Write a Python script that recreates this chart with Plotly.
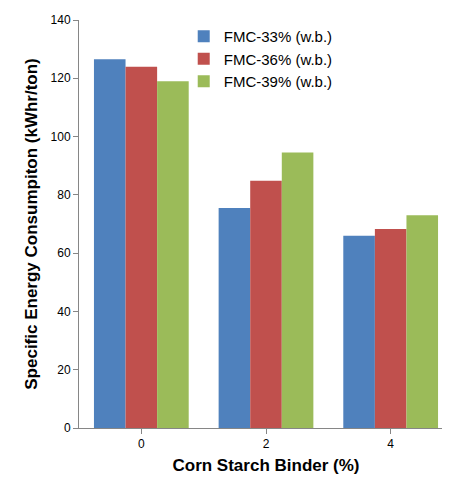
import plotly.graph_objects as go

categories = ["0", "2", "4"]
series_names = ["FMC-33% (w.b.)", "FMC-36% (w.b.)", "FMC-39% (w.b.)"]
fmc33 = [126.5, 75.5, 66]
fmc36 = [124, 84.8, 68.3]
fmc39 = [119, 94.5, 73]
colors = ["#4F81BD", "#C0504D", "#9BBB59"]

fig = go.Figure()
for name, vals, c in zip(series_names, [fmc33, fmc36, fmc39], colors):
    fig.add_trace(go.Bar(x=categories, y=vals, name=name, marker_color=c, marker_line_width=0))

fig.update_layout(
    width=450, height=481, plot_bgcolor="white", paper_bgcolor="white",
    margin=dict(l=71, r=5, t=8, b=61),
    barmode="group", bargap=0.24, bargroupgap=0,
    font=dict(family="Liberation Sans, Arial", size=12, color="black"),
    legend=dict(x=0.28, y=1.0, xanchor="left", yanchor="top", font=dict(size=15),
                bgcolor="rgba(0,0,0,0)", itemwidth=30, tracegroupgap=0),
    xaxis=dict(title=dict(text="<b>Corn Starch Binder (%)</b>", font=dict(size=17), standoff=8),
               showline=True, linecolor="#868686", ticks="outside", tickcolor="#868686",
               tickfont=dict(size=12)),
    yaxis=dict(title=dict(text="<b>Specific Energy Consumpiton (kWhr/ton)</b>", font=dict(size=17), standoff=8),
               range=[0, 140], dtick=20, showgrid=False, showline=True, linecolor="#868686",
               ticks="outside", tickcolor="#868686", tickfont=dict(size=12), zeroline=False),
)
fig.write_html("out.html")
